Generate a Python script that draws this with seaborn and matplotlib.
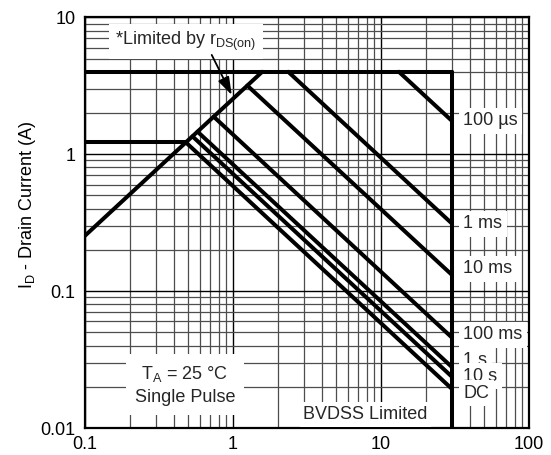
import numpy as np
import pandas as pd
import seaborn as sns
import matplotlib.pyplot as plt
from matplotlib.ticker import LogLocator, NullFormatter

# ----------- Data -----------

pulse_labels = ["100 µs", "1 ms", "10 ms", "100 ms", "1 s", "10 s", "DC"]
vds_start = [13.2, 2.36, 1.25, 0.74, 0.576, 0.532, 0.48]
id_start = [4.0, 4.0, 3.17, 1.88, 1.46, 1.35, 1.22]
vds_end = [30, 30, 30, 30, 30, 30, 30]
id_end = [1.76, 0.313, 0.132, 0.046, 0.028, 0.0238, 0.0194]

# boundary lines: Id max, rDS(on) limit, low current plateau, BVDSS
limit_names = ["id_max", "rds_on", "id_plateau", "bvdss"]
limit_vds = [[0.1, 30], [0.1, 1.575], [0.1, 0.48], [30, 30]]
limit_id = [[4.0, 4.0], [0.254, 4.0], [1.22, 1.22], [4.0, 0.01]]

x_ticks = [0.1, 1, 10, 100]
x_tick_labels = ["0.1", "1", "10", "100"]
y_ticks = [0.01, 0.1, 1, 10]
y_tick_labels = ["0.01", "0.1", "1", "10"]

# ----------- Build long table -----------

rows = []
for name, v0, i0, v1, i1 in zip(pulse_labels, vds_start, id_start, vds_end, id_end):
    rows.append((name, v0, i0))
    rows.append((name, v1, i1))
for name, vs, ids in zip(limit_names, limit_vds, limit_id):
    for v, i in zip(vs, ids):
        rows.append((name, v, i))
df = pd.DataFrame(rows, columns=["curve", "vds", "id"])

# ----------- Style -----------

sns.set_theme(style="white")
plt.rcParams["font.family"] = ["Liberation Sans", "DejaVu Sans"]
plt.rcParams["mathtext.fontset"] = "custom"
plt.rcParams["mathtext.rm"] = "Liberation Sans"
FS = 13

fig = plt.figure(figsize=(5.51, 4.55), dpi=100)
ax = fig.add_axes([0.1543, 0.0593, 0.8058, 0.9027])

sns.lineplot(data=df, x="vds", y="id", units="curve", estimator=None,
             sort=False, color="black", lw=2.9, ax=ax, zorder=2)

ax.set_xscale("log")
ax.set_yscale("log")
ax.set_xlim(0.1, 100)
ax.set_ylim(0.01, 10)

ax.set_xticks(x_ticks, x_tick_labels)
ax.set_yticks(y_ticks, y_tick_labels)
ax.xaxis.set_minor_locator(LogLocator(base=10, subs=np.arange(2, 10)))
ax.yaxis.set_minor_locator(LogLocator(base=10, subs=np.arange(2, 10)))
ax.xaxis.set_minor_formatter(NullFormatter())
ax.yaxis.set_minor_formatter(NullFormatter())
ax.tick_params(which="both", length=0, labelsize=FS, colors="black")
ax.tick_params(axis="y", pad=7)
ax.tick_params(axis="x", pad=6)

ax.set_axisbelow(True)
ax.grid(which="major", color="black", lw=1.0)
ax.grid(which="minor", color="#4d4d4d", lw=0.9)
for s in ax.spines.values():
    s.set_color("black")
    s.set_linewidth(1.6)

ax.set_xlabel("")
ax.set_ylabel(r"I$_\mathregular{D}$ - Drain Current (A)", fontsize=FS, color="black")
ax.yaxis.set_label_coords(-0.106, 0.543)

# ----------- Annotations -----------

box = dict(facecolor="white", edgecolor="none", boxstyle="square,pad=0.25")
label_y = [1.75, 0.31, 0.1455, 0.048, 0.031, 0.0238, 0.018]
for lab, y in zip(pulse_labels, label_y):
    ax.text(36, y, lab, fontsize=FS, ha="left", va="center", bbox=box, zorder=3)

ax.text(0.2275, 0.941, r"*Limited by r$_\mathregular{DS(on)}$", transform=ax.transAxes,
        fontsize=FS, ha="center", va="center",
        bbox=dict(facecolor="white", edgecolor="none", boxstyle="square,pad=0.35"))
ax.annotate("", xy=(0.98, 2.71), xytext=(0.718, 5.31),
            arrowprops=dict(arrowstyle="-|>,head_length=0.9,head_width=0.3",
                            color="black", lw=1.3, shrinkA=0, shrinkB=0))

ax.text(0.225, 0.105, "T$_\\mathregular{A}$ = 25 °C\nSingle Pulse", transform=ax.transAxes,
        fontsize=FS, ha="center", va="center", linespacing=1.35,
        bbox=dict(facecolor="white", edgecolor="none", boxstyle="square,pad=0.5"))
ax.text(0.632, 0.033, "BVDSS Limited", transform=ax.transAxes,
        fontsize=FS, ha="center", va="center",
        bbox=dict(facecolor="white", edgecolor="none", boxstyle="square,pad=0.2"))

fig.savefig("out.png", dpi=100)
plt.close(fig)
